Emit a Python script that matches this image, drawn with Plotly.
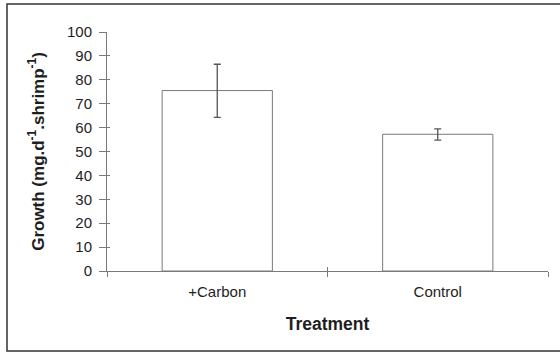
import plotly.graph_objects as go

categories = ["+Carbon", "Control"]
growth = [75.5, 57.2]
err_plus = [11.0, 2.3]
err_minus = [11.2, 2.4]
y_tickvals = [0, 10, 20, 30, 40, 50, 60, 70, 80, 90, 100]

W, H = 560, 353
L, R, T, B = 107, 12, 32, 82
FONT = "Liberation Sans, Arial, sans-serif"
AX = "#7a7a7a"
TXT = "#1e1e1e"

fig = go.Figure()
fig.add_trace(go.Bar(
    x=categories, y=growth,
    marker=dict(color="white", line=dict(color="#7a7a7a", width=1)),
    error_y=dict(type="data", array=err_plus, arrayminus=err_minus, symmetric=False,
                 color="#555555", thickness=1.3, width=3.5),
    showlegend=False, hoverinfo="skip",
))
# invisible helper trace for the inside half of the crossing ticks
fig.add_trace(go.Scatter(
    x=categories, y=growth, xaxis="x2", yaxis="y2", mode="markers",
    marker=dict(opacity=0), showlegend=False, hoverinfo="skip",
))

fig.update_layout(
    width=W, height=H,
    margin=dict(l=L, r=R, t=T, b=B, pad=0),
    paper_bgcolor="white", plot_bgcolor="white",
    bargap=0.5,
    font=dict(family=FONT, size=15, color=TXT),
    xaxis=dict(
        type="category", categoryarray=categories, range=[-0.5, 1.5],
        showline=True, linecolor=AX, linewidth=1,
        ticks="outside", ticklen=5, tickcolor=AX, tickwidth=1,
        tickson="boundaries", showgrid=False, zeroline=False,
        ticklabelstandoff=7,
        tickfont=dict(size=15, color=TXT),
        title=dict(text="<b>Treatment</b>", font=dict(size=17.5, color=TXT), standoff=18),
    ),
    yaxis=dict(
        range=[0, 100], tickvals=y_tickvals,
        showline=True, linecolor=AX, linewidth=1,
        ticks="outside", ticklen=7, tickcolor=AX, tickwidth=1,
        showgrid=False, zeroline=False,
        ticklabelstandoff=4,
        tickfont=dict(size=15, color=TXT),
        title=dict(text="<b>Growth (mg.d<sup>-1</sup>.shrimp<sup>-1</sup>)</b>",
                   font=dict(size=17, color=TXT), standoff=18),
    ),
    xaxis2=dict(
        type="category", categoryarray=categories, range=[-0.5, 1.5],
        overlaying="x", side="bottom", anchor="y",
        ticks="inside", ticklen=4, tickcolor=AX, tickwidth=1,
        tickson="boundaries", showticklabels=False, showgrid=False,
        zeroline=False, showline=False,
    ),
    yaxis2=dict(
        range=[0, 100], tickvals=y_tickvals, overlaying="y", side="left", anchor="x",
        ticks="inside", ticklen=3, tickcolor=AX, tickwidth=1,
        showticklabels=False, showgrid=False, zeroline=False, showline=False,
    ),
)

# outer frame around the chart area
fig.add_shape(type="rect", xref="paper", yref="paper",
              x0=(7 - L) / (W - L - R), x1=(565 - L) / (W - L - R),
              y0=(H - B - 351) / (H - T - B), y1=(H - B - 4) / (H - T - B),
              line=dict(color="#333333", width=1.5), fillcolor="rgba(0,0,0,0)",
              layer="below")

fig.write_html("out.html", config={"displayModeBar": False},
               post_script="document.body.style.margin='0';")
